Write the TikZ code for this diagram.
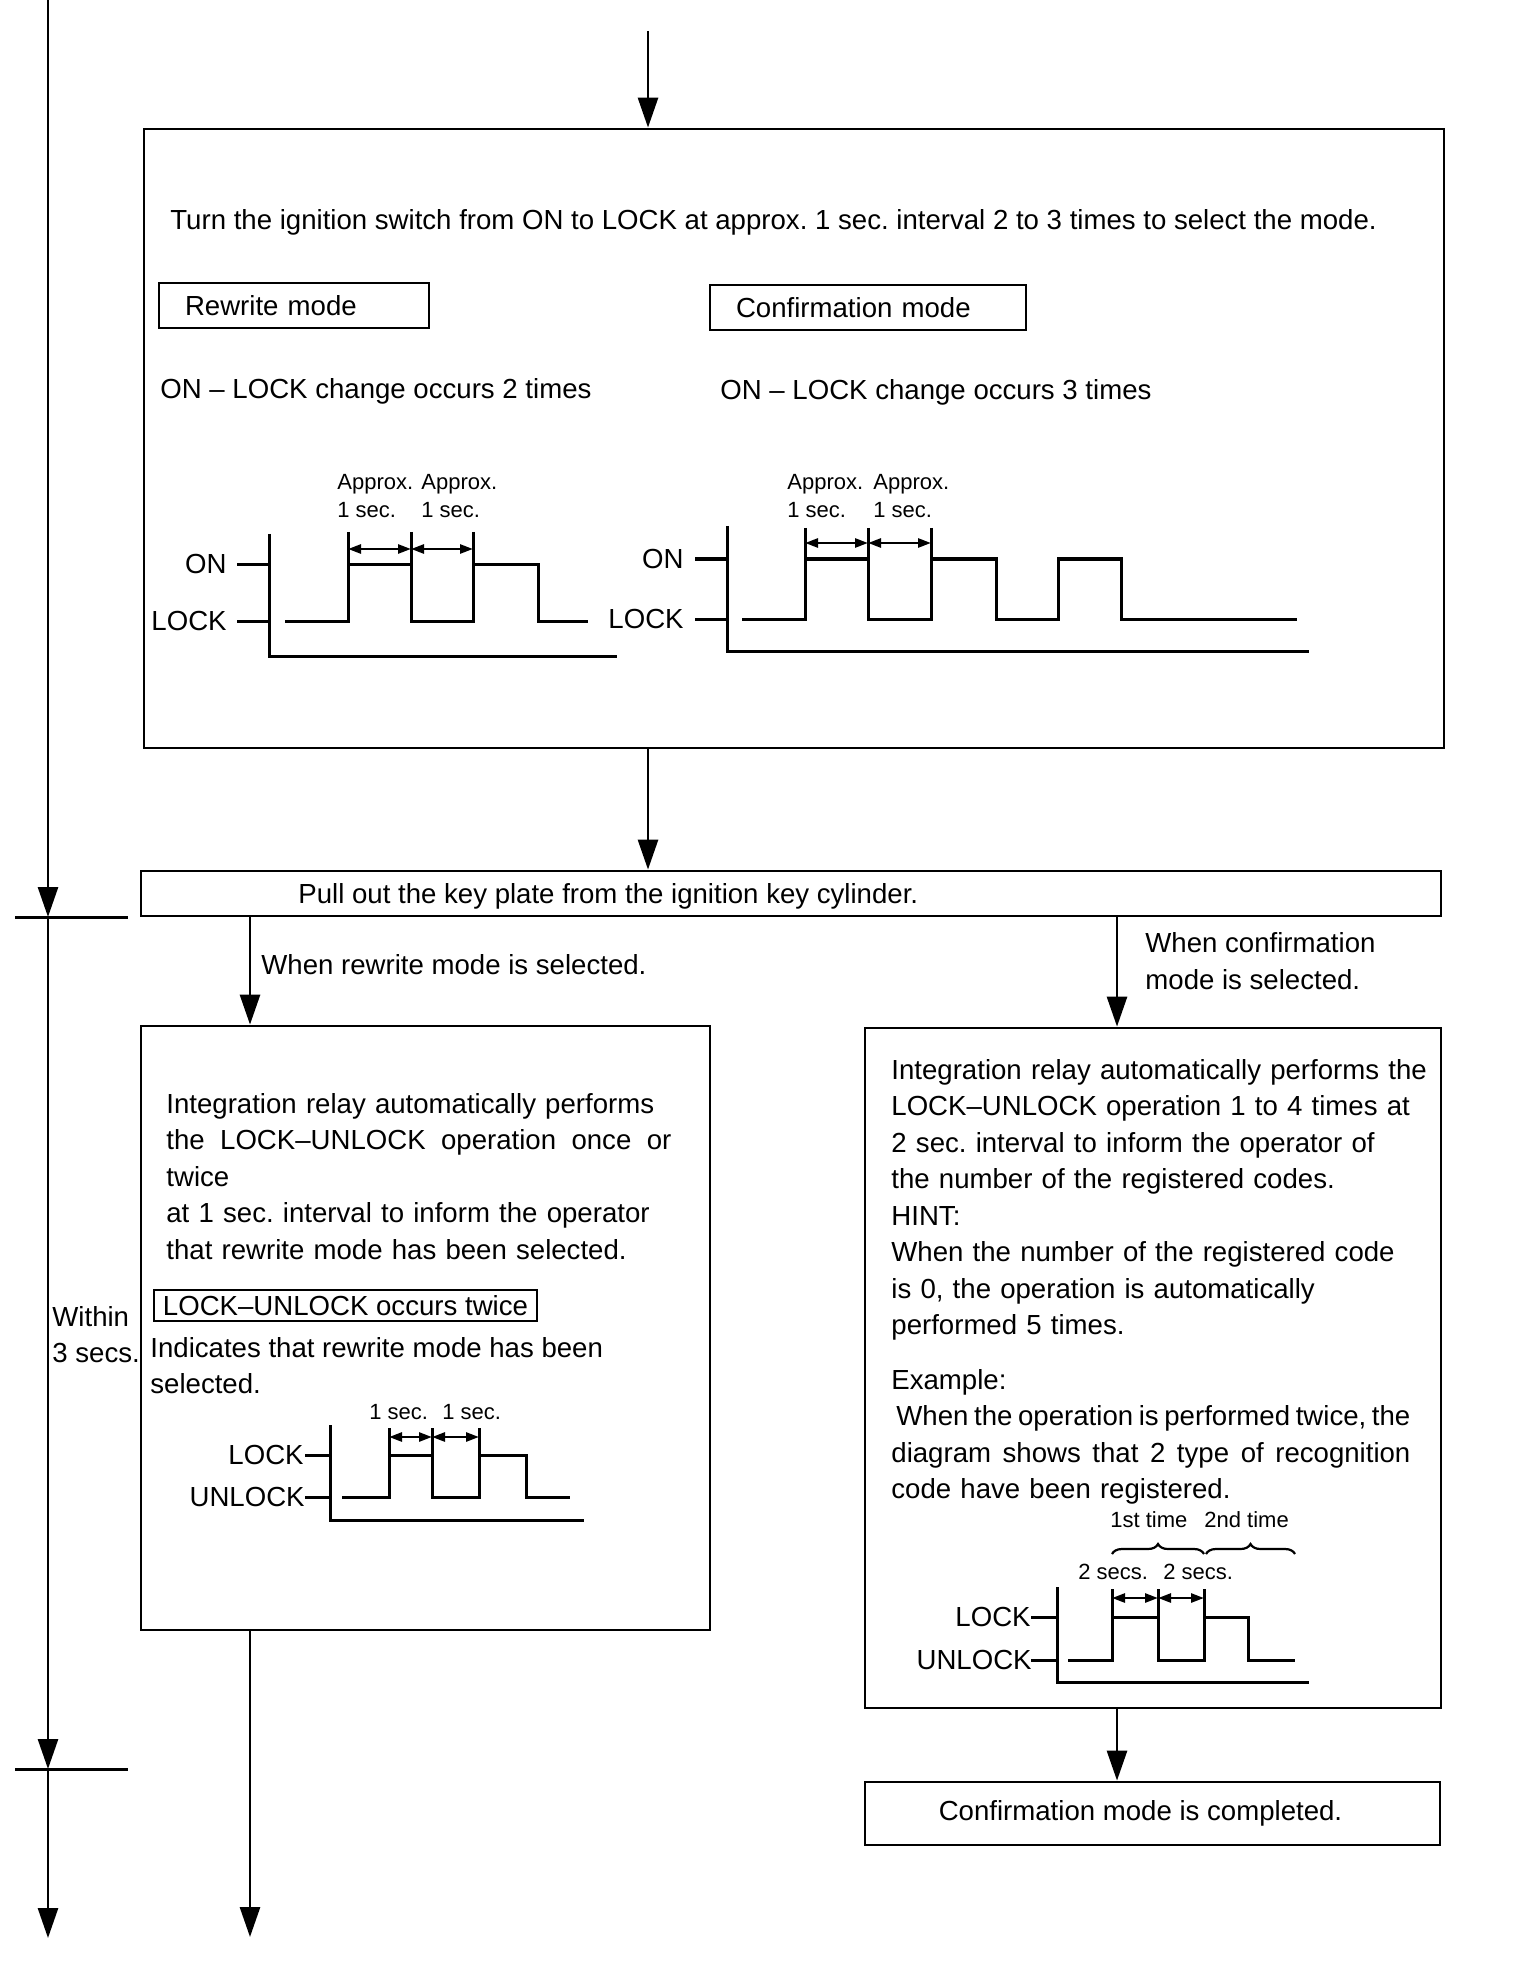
\documentclass[tikz,border=0pt]{standalone}
\usepackage{fontspec}
\setmainfont{Liberation Sans}
\usetikzlibrary{arrows.meta, positioning, calc, decorations.pathreplacing}

\newcommand{\bodysize}{\fontsize{13.8pt}{18.25pt}\selectfont\frenchspacing}
\newcommand{\smallsize}{\fontsize{11pt}{14pt}\selectfont\frenchspacing}
\newcommand{\spreadline}[2]{\makebox[#1][s]{\spaceskip=0pt\xspaceskip=0pt #2}}

\tikzset{
    panel/.style={rectangle, draw, line width=1.4pt, inner sep=0pt},
    modebox/.style={rectangle, draw, line width=1.3pt, align=left, font=\bodysize, inner xsep=13pt, inner ysep=0pt, minimum height=22.5pt},
    body/.style={anchor=north west, align=left, inner sep=0pt, font=\bodysize},
    oneline/.style={anchor=west, inner sep=0pt, font=\bodysize},
    sigLabel/.style={anchor=east, inner sep=0pt, font=\bodysize},
    timeLabel/.style={anchor=north west, align=left, inner sep=0pt, font=\smallsize},
    flow/.style={-{Triangle[length=15pt, width=10pt]}, line width=1.4pt},
    wave/.style={line width=1.5pt},
    dimArrow/.style={{Triangle[length=6.5pt, width=4.5pt]}-{Triangle[length=6.5pt, width=4.5pt]}, line width=1.3pt},
    brace/.style={decorate, decoration={brace, amplitude=5pt}, line width=1.1pt}
}

\begin{document}
\begin{tikzpicture}[x=0.5pt, y=-0.5pt]
    \useasboundingbox (0,0) rectangle (1520,1962);

    % --- BOXES ---
    \node[panel, minimum width=650pt, minimum height=309.5pt] (select) at (794,438.5) {};
    \node[panel, minimum width=650pt, minimum height=22.5pt] (pull) at (791,893.5) {};
    \node[panel, minimum width=284.5pt, minimum height=302pt] (rewrite) at (425.5,1328) {};
    \node[panel, minimum width=288pt, minimum height=340pt] (confirm) at (1153,1368) {};
    \node[panel, minimum width=287.5pt, minimum height=31.5pt, font=\bodysize] (done) at (1152.5,1813.5) {\hspace*{-12pt}Confirmation mode is completed.};

    % --- TIME LINE (left) ---
    \coordinate (tl0) at (48,0);
    \coordinate (tl1) at (48,917);
    \coordinate (tl2) at (48,1769);
    \coordinate (tl3) at (48,1938);
    \draw[flow] (tl0) -- (tl1);
    \draw[flow] (tl1) -- (tl2);
    \draw[flow] (tl2) -- (tl3);
    \draw[wave] ([xshift=-16.5pt]tl1) -- ([xshift=40pt]tl1);
    \draw[wave] ([xshift=-16.5pt]tl2) -- ([xshift=40pt]tl2);
    \node[body] (within) at (52,1306) {Within\\3 secs.};

    % --- FLOW ARROWS ---
    \coordinate (entry) at (648,31);
    \coordinate (rwEnd) at (250,1937);
    \coordinate (cfX) at (1117,1000);
    \draw[flow] (entry) -- (entry |- select.north);
    \draw[flow] (entry |- select.south) -- (entry |- pull.north);
    \draw[flow] (pull.south -| rwEnd) -- node[pos=0.44, right=5pt, font=\bodysize, inner sep=0pt] {When rewrite mode is selected.} (rewrite.north -| rwEnd);
    \draw[flow] (pull.south -| cfX) -- node[pos=0.4, right=13.5pt, font=\bodysize, inner sep=0pt, align=left] {When confirmation\\mode is selected.} (confirm.north -| cfX);
    \draw[flow] (confirm.south -| cfX) -- (done.north -| cfX);
    \draw[flow] (rewrite.south -| rwEnd) -- (rwEnd);

    % --- MODE SELECTION ---
    \node[oneline] (turn) at (170,222) {Turn the ignition switch from ON to LOCK at approx. 1 sec. interval 2 to 3 times to select the mode.};
    \node[modebox, text width=109pt] (rwTag) at (294,305.5) {Rewrite mode};
    \node[modebox, text width=132pt] (cfTag) at (868,307.5) {Confirmation mode};
    \node[oneline] (rwCount) at (160,391) {ON – LOCK change occurs 2 times};
    \node[oneline] (cfCount) at (720,392) {ON – LOCK change occurs 3 times};
    \node[oneline] (pullText) at (298,896) {Pull out the key plate from the ignition key cylinder.};

    % Rewrite: ON - LOCK twice
    \draw[wave] (269,534) -- (269,656) -- (617,656);
    \draw[wave] (237,564) -- (269,564);
    \draw[wave] (237,621) -- (269,621);
    \node[sigLabel] at (227,564) {ON};
    \node[sigLabel] at (227,621) {LOCK};
    \draw[wave] (285,621) -| (348,564) -| (411,621) -| (473,564) -| (538,621) -- (588,621);
    \foreach \x in {348,411,473} \draw[wave] (\x,532) -- (\x,564);
    \draw[dimArrow] (348,549) -- (411,549);
    \draw[dimArrow] (411,549) -- (473,549);
    \node[timeLabel] at (337,474) {Approx.\\1 sec.};
    \node[timeLabel] at (421,474) {Approx.\\1 sec.};

    % Confirmation: ON - LOCK three times
    \draw[wave] (727,526) -- (727,651) -- (1309,651);
    \draw[wave] (695,559) -- (727,559);
    \draw[wave] (695,619) -- (727,619);
    \node[sigLabel] at (684,559) {ON};
    \node[sigLabel] at (684,619) {LOCK};
    \draw[wave] (742,619) -| (805,559) -| (868,619) -| (931,559) -| (996,619) -| (1058,559) -| (1121,619) -- (1297,619);
    \foreach \x in {805,868,931} \draw[wave] (\x,528) -- (\x,559);
    \draw[dimArrow] (805,543) -- (868,543);
    \draw[dimArrow] (868,543) -- (931,543);
    \node[timeLabel] at (787,474) {Approx.\\1 sec.};
    \node[timeLabel] at (873,474) {Approx.\\1 sec.};

    % --- REWRITE MODE ---
    \node[body, text width=260pt] (rwText) at (166,1093) {Integration relay automatically performs\\
        \spreadline{252.5pt}{the LOCK–UNLOCK operation once or}\\
        twice\\
        at 1 sec. interval to inform the operator\\
        that rewrite mode has been selected.};
    \node[rectangle, draw, line width=1.3pt, inner xsep=4pt, inner ysep=1pt, minimum width=191.5pt, minimum height=15.5pt, font=\bodysize] (twiceTag) at (345.5,1305.5) {LOCK–UNLOCK occurs twice};
    \node[body] (indicate) at (150,1337) {Indicates that rewrite mode has been\\selected.};

    \draw[wave] (330,1425) -- (330,1520) -- (584,1520);
    \draw[wave] (305,1455) -- (330,1455);
    \draw[wave] (305,1497) -- (330,1497);
    \node[sigLabel] at (304,1455) {LOCK};
    \node[sigLabel] at (305,1497) {UNLOCK};
    \draw[wave] (342,1497) -| (389,1455) -| (432,1497) -| (479,1455) -| (526,1497) -- (570,1497);
    \foreach \x in {389,432,479} \draw[wave] (\x,1428) -- (\x,1455);
    \draw[dimArrow] (389,1437) -- (432,1437);
    \draw[dimArrow] (432,1437) -- (479,1437);
    \node[timeLabel] at (369,1404) {1 sec.};
    \node[timeLabel] at (442,1404) {1 sec.};

    % --- CONFIRMATION MODE ---
    \node[body, text width=270pt] (cfText) at (891,1059) {Integration relay automatically performs the\\
        LOCK–UNLOCK operation 1 to 4 times at\\
        2 sec. interval to inform the operator of\\
        the number of the registered codes.\\
        HINT:\\
        When the number of the registered code\\
        is 0, the operation is automatically\\
        performed 5 times.};
    \node[body, text width=270pt] (example) at (891,1369) {Example:\\
        \hspace*{2.5pt}\spreadline{257pt}{When the operation is performed twice, the}\\
        \spreadline{259.5pt}{diagram shows that 2 type of recognition}\\
        code have been registered.};

    \draw[wave] (1057,1587) -- (1057,1682) -- (1309,1682);
    \draw[wave] (1031,1617) -- (1057,1617);
    \draw[wave] (1031,1660) -- (1057,1660);
    \node[sigLabel] at (1031,1617) {LOCK};
    \node[sigLabel] at (1032,1660) {UNLOCK};
    \draw[wave] (1068,1660) -| (1112,1617) -| (1158,1660) -| (1204,1617) -| (1248,1660) -- (1295,1660);
    \foreach \x in {1112,1158,1204} \draw[wave] (\x,1589) -- (\x,1617);
    \draw[dimArrow] (1112,1598) -- (1158,1598);
    \draw[dimArrow] (1158,1598) -- (1204,1598);
    \node[timeLabel] at (1078,1564) {2 secs.};
    \node[timeLabel] at (1163,1564) {2 secs.};
    \draw[brace] (1112,1554) -- (1204,1554);
    \draw[brace] (1206,1554) -- (1295,1554);
    \node[timeLabel] at (1110,1511) {1st time};
    \node[timeLabel] at (1204,1511) {2nd time};

\end{tikzpicture}
\end{document}
